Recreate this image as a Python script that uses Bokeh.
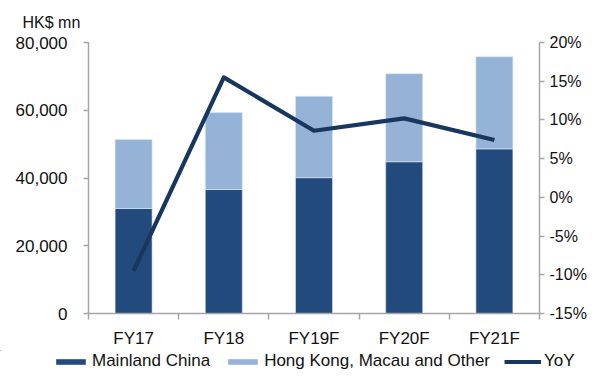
from bokeh.plotting import figure
from bokeh.models import (Range1d, LinearAxis, FixedTicker, NumeralTickFormatter,
                          Legend, LegendItem, Title, ColumnDataSource)
from bokeh.embed import file_html
from bokeh.resources import INLINE

categories = ["FY17", "FY18", "FY19F", "FY20F", "FY21F"]
mainland = [31000, 36600, 40100, 44800, 48600]
hk_macau_other = [20400, 22700, 24000, 26000, 27200]
yoy = [-0.095, 0.155, 0.086, 0.102, 0.074]
series_names = ["Mainland China", "Hong Kong, Macau and Other", "YoY"]

left_ticks = [0, 20000, 40000, 60000, 80000]
right_ticks = [-0.15, -0.10, -0.05, 0.0, 0.05, 0.10, 0.15, 0.20]

FONT = "Liberation Sans"
DARK = "#234A7D"
LIGHT = "#95B3D7"
LINE = "#17375E"
AXIS = "#A6A6A6"
TXT = "#111111"

xs = list(range(len(categories)))
src = ColumnDataSource(dict(x=xs, mainland=mainland, hk=hk_macau_other, yoy=yoy))

p = figure(width=589, height=350, output_backend="svg", toolbar_location=None,
           x_range=Range1d(-0.5, len(categories) - 0.5), y_range=Range1d(0, 80000),
           min_border_left=88, min_border_right=46, min_border_top=42, min_border_bottom=36)
p.outline_line_color = None
p.grid.visible = False
p.extra_y_ranges = {"yoy": Range1d(-0.15, 0.20)}

r_bars = p.vbar_stack(["mainland", "hk"], x="x", width=0.41, source=src,
                      color=[DARK, LIGHT], line_color="#DCE6F2", line_width=0.6)
r_line = p.line("x", "yoy", source=src, y_range_name="yoy", line_color=LINE,
                line_width=4.2, line_join="round")

# x axis
xa = p.xaxis[0]
xa.ticker = FixedTicker(ticks=xs, minor_ticks=[i - 0.5 for i in xs] + [len(xs) - 0.5])
xa.major_label_overrides = {i: c for i, c in zip(xs, categories)}
xa.major_tick_out = 0
xa.major_tick_in = 0
xa.minor_tick_out = 6
xa.minor_tick_in = 0
xa.minor_tick_line_color = AXIS
xa.minor_tick_line_width = 1.5
xa.major_label_standoff = 9

# left axis
ya = p.yaxis[0]
ya.ticker = FixedTicker(ticks=left_ticks)
ya.formatter = NumeralTickFormatter(format="0,0")
ya.minor_tick_line_color = None
ya.major_tick_out = 5
ya.major_tick_in = 0
ya.major_label_standoff = 16

# right axis
ra = LinearAxis(y_range_name="yoy", ticker=FixedTicker(ticks=right_ticks),
                formatter=NumeralTickFormatter(format="0%"))
ra.minor_tick_line_color = None
ra.major_tick_out = 5
ra.major_tick_in = 0
ra.major_label_standoff = 5
p.add_layout(ra, "right")

for ax in [xa, ya, ra]:
    ax.axis_line_color = AXIS
    ax.axis_line_width = 1.5
    ax.major_tick_line_color = AXIS
    ax.major_tick_line_width = 1.5
    ax.major_label_text_font = FONT
    ax.major_label_text_font_size = "17px"
    ax.major_label_text_color = TXT
ra.major_label_text_font_size = "16px"

unit = Title(text="HK$ mn", align="left", offset=-66, standoff=23,
             text_font=FONT, text_font_size="16px", text_font_style="normal",
             text_color=TXT)
p.add_layout(unit, "above")

# legend strip below the chart (its renderers use the same data, kept far out of view)
lg = figure(width=589, height=22, output_backend="svg", toolbar_location=None,
            x_range=Range1d(100, 101), y_range=Range1d(-1000001, -1000000),
            min_border_left=0, min_border_right=0, min_border_top=0, min_border_bottom=0,
            x_axis_location=None, y_axis_location=None)
lg.outline_line_color = None
lg.grid.visible = False
g1 = lg.vbar(x="x", top="mainland", width=0.41, source=src, fill_color=DARK, line_color=None)
g2 = lg.vbar(x="x", top="hk", width=0.41, source=src, fill_color=LIGHT, line_color=None)
g3 = lg.line(x="x", y="yoy", source=src, line_color=LINE, line_width=4.2)

legend = Legend(items=[
    LegendItem(label=series_names[0], renderers=[g1]),
    LegendItem(label=series_names[1], renderers=[g2]),
    LegendItem(label=series_names[2], renderers=[g3]),
], orientation="horizontal", location=(52, 1))
legend.glyph_width = 37
legend.glyph_height = 7
legend.label_standoff = 3
legend.spacing = 14
legend.padding = 0
legend.margin = 0
legend.border_line_color = None
legend.background_fill_alpha = 0
legend.label_text_font = FONT
legend.label_text_font_size = "17px"
legend.label_text_color = TXT
lg.add_layout(legend, "center")

open("out.html", "w").write(file_html([p, lg], INLINE))
